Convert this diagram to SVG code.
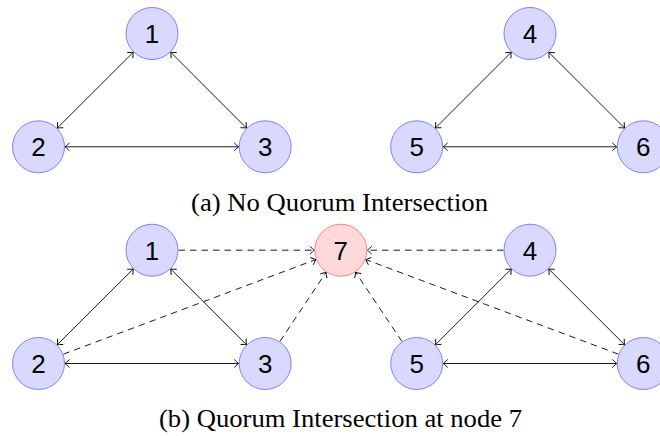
<svg xmlns="http://www.w3.org/2000/svg" width="660" height="436" viewBox="0 0 660 436">
<style>
.n circle{fill:#d9d9ff;stroke:#8080ff;stroke-width:1}
.r circle{fill:#ffd9d9;stroke:#ff8080;stroke-width:1}
.n text,.r text{font-family:"Liberation Sans","DejaVu Sans",sans-serif;font-size:26px;fill:#000;text-anchor:middle}
.e{stroke:#000;stroke-width:0.9;fill:none}
.bi{marker-start:url(#ah);marker-end:url(#ah)}
.d{stroke-dasharray:6.5 5;marker-end:url(#ah)}
.cap{font-family:"Liberation Serif","DejaVu Serif",serif;font-size:26px;fill:#000;text-anchor:middle}
</style>
<defs>
<marker id="ah" viewBox="-6 -5 7 10" refX="0" refY="0" markerWidth="7" markerHeight="10" markerUnits="userSpaceOnUse" orient="auto-start-reverse">
<path d="M-4.5,-4 Q-1,-0.6 0,0 Q-1,0.6 -4.5,4" fill="none" stroke="#000" stroke-width="0.9" stroke-dasharray="none"/>
</marker>
</defs>
<g id="connectors">
<line class="e bi" x1="133.25" y1="52.22" x2="57.25" y2="128.08"/>
<line class="e bi" x1="170.72" y1="52.24" x2="246.48" y2="128.06"/>
<line class="e bi" x1="65" y1="146.8" x2="238.7" y2="146.8"/>
<line class="e bi" x1="511.27" y1="52.24" x2="435.43" y2="128.06"/>
<line class="e bi" x1="548.73" y1="52.24" x2="624.57" y2="128.06"/>
<line class="e bi" x1="443.2" y1="146.8" x2="616.8" y2="146.8"/>
<line class="e bi" x1="133.25" y1="268.92" x2="57.25" y2="344.78"/>
<line class="e bi" x1="170.72" y1="268.94" x2="246.48" y2="344.76"/>
<line class="e bi" x1="65" y1="363.5" x2="238.7" y2="363.5"/>
<line class="e bi" x1="511.27" y1="268.94" x2="435.43" y2="344.76"/>
<line class="e bi" x1="548.73" y1="268.94" x2="624.57" y2="344.76"/>
<line class="e bi" x1="443.2" y1="363.5" x2="616.8" y2="363.5"/>
<line class="e d" x1="178.5" y1="250.2" x2="314.3" y2="250.2"/>
<line class="e d" x1="503.5" y1="250.2" x2="367.3" y2="250.2"/>
<line class="e d" x1="63.32" y1="354.2" x2="315.98" y2="259.5"/>
<line class="e d" x1="618.48" y1="354.2" x2="365.62" y2="259.5"/>
<line class="e d" x1="279.91" y1="341.45" x2="326.09" y2="272.25"/>
<line class="e d" x1="401.95" y1="341.49" x2="355.55" y2="272.21"/>
</g>
<g id="a1" class="n"><circle cx="152" cy="33.5" r="26"/><text x="152" y="43">1</text></g>
<g id="a2" class="n"><circle cx="38.5" cy="146.8" r="26"/><text x="38.5" y="156.3">2</text></g>
<g id="a3" class="n"><circle cx="265.2" cy="146.8" r="26"/><text x="265.2" y="156.3">3</text></g>
<g id="a4" class="n"><circle cx="530" cy="33.5" r="26"/><text x="530" y="43">4</text></g>
<g id="a5" class="n"><circle cx="416.7" cy="146.8" r="26"/><text x="416.7" y="156.3">5</text></g>
<g id="a6" class="n"><circle cx="643.3" cy="146.8" r="26"/><text x="643.3" y="156.3">6</text></g>
<g id="b1" class="n"><circle cx="152" cy="250.2" r="26"/><text x="152" y="259.7">1</text></g>
<g id="b2" class="n"><circle cx="38.5" cy="363.5" r="26"/><text x="38.5" y="373">2</text></g>
<g id="b3" class="n"><circle cx="265.2" cy="363.5" r="26"/><text x="265.2" y="373">3</text></g>
<g id="b7" class="r"><circle cx="340.8" cy="250.2" r="26"/><text x="340.8" y="259.7">7</text></g>
<g id="b4" class="n"><circle cx="530" cy="250.2" r="26"/><text x="530" y="259.7">4</text></g>
<g id="b5" class="n"><circle cx="416.7" cy="363.5" r="26"/><text x="416.7" y="373">5</text></g>
<g id="b6" class="n"><circle cx="643.3" cy="363.5" r="26"/><text x="643.3" y="373">6</text></g>
<text class="cap" x="339.5" y="211" textLength="297" lengthAdjust="spacingAndGlyphs">(a) No Quorum Intersection</text>
<text class="cap" x="340.5" y="427" textLength="363" lengthAdjust="spacingAndGlyphs">(b) Quorum Intersection at node 7</text>
</svg>
